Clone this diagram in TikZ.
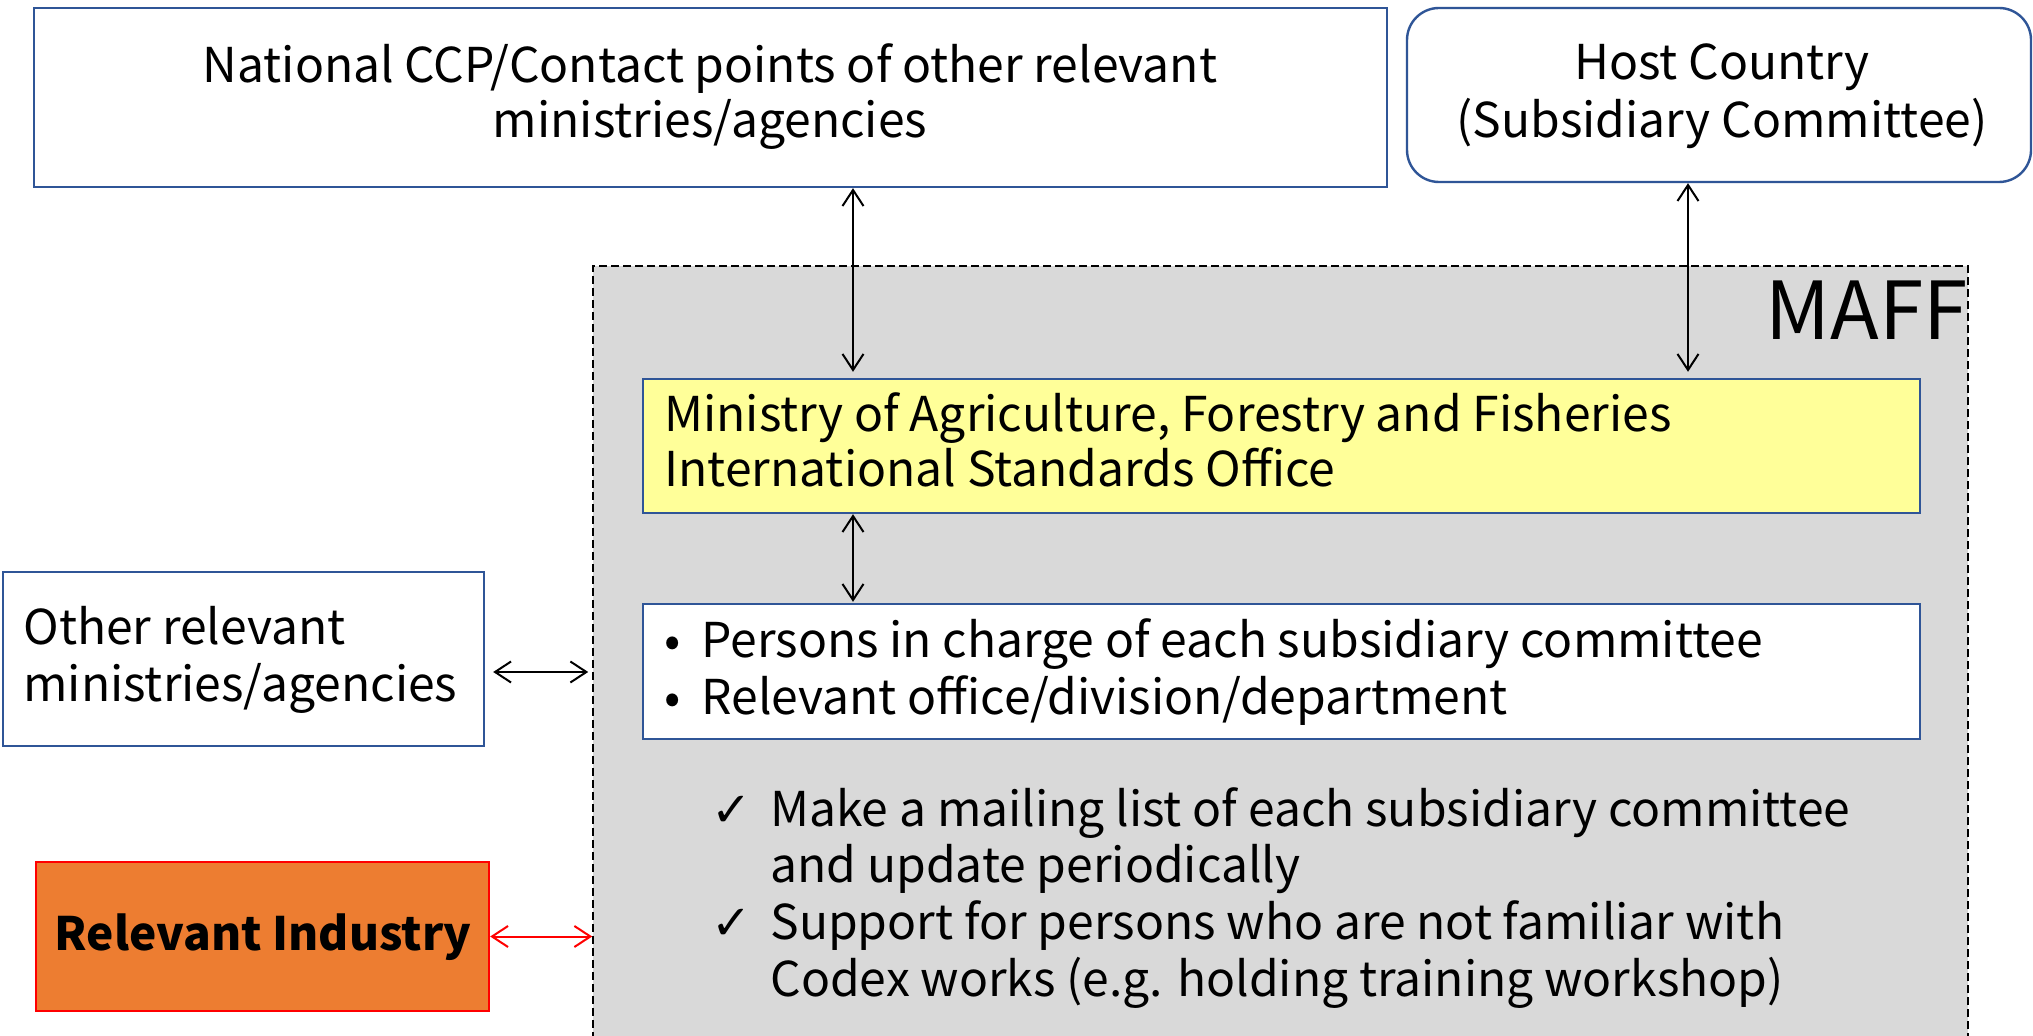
\documentclass[tikz,border=0pt]{standalone}
\usepackage{fontspec}
\setmainfont{Noto Sans CJK JP}
\newfontfamily\symfont{DejaVu Sans}
\usetikzlibrary{arrows.meta,fit}
\definecolor{boxblue}{HTML}{2F5597}
\definecolor{maffgray}{HTML}{D9D9D9}
\definecolor{lightyellow}{HTML}{FFFF99}
\definecolor{indorange}{HTML}{ED7D31}
\begin{document}
\begin{tikzpicture}[x=0.5pt,y=-0.5pt,
  bluebox/.style={draw=boxblue, line width=1.2pt, inner sep=0pt},
  txt/.style={inner sep=0pt, font=\fontsize{24}{28}\selectfont},
  bigtxt/.style={inner sep=0pt, font=\fontsize{40}{46}\selectfont},
  arr/.style={{Straight Barb[length=8pt,width=10.5pt]}-{Straight Barb[length=8pt,width=10.5pt]}, line width=1pt},
]
\useasboundingbox (0,0) rectangle (2033,1036);
\fill[white] (0,0) rectangle (2033,1036);

% MAFF container
\node[draw=black, line width=0.8pt, dash pattern=on 4pt off 2pt, fill=maffgray, inner sep=0pt, fit={(593,266)(1968,1070)}] (maff) {};
\node[bigtxt, anchor=base east] (mafftxt) at (1968,340) {MAFF};

% boxes
\node[bluebox, fit={(34,8)(1387,187)}] (ccp) {};
\node[bluebox, rounded corners=16pt, fit={(1407,8)(2031,182)}] (host) {};
\node[bluebox, fill=lightyellow, fit={(643,379)(1920,513)}] (yellow) {};
\node[bluebox, fill=white, fit={(643,604)(1920,739)}] (bul) {};
\node[bluebox, fill=white, fit={(3,572)(484,746)}] (other) {};
\node[draw=red, line width=1.2pt, fill=indorange, inner sep=0pt, fit={(36,862)(489,1011)}] (ind) {};

% texts
\node[txt, anchor=base] (t1) at (710,83) {National CCP/Contact points of other relevant};
\node[txt, anchor=base] (t2) at (710,138) {ministries/agencies};
\node[txt, anchor=base] (h1) at (1722,80) {Host Country};
\node[txt, anchor=base] (h2) at (1722,138) {(Subsidiary Committee)};
\node[txt, anchor=base west] (y1) at (664,432) {Ministry of Agriculture, Forestry and Fisheries};
\node[txt, anchor=base west] (y2) at (664,487) {International Standards Office};
\node[txt, anchor=base west] (b1m) at (664,657) {•};
\node[txt, anchor=base west] (b1) at (701,657) {Persons in charge of each subsidiary committee};
\node[txt, anchor=base west] (b2m) at (664,714) {•};
\node[txt, anchor=base west] (b2) at (701,714) {Relevant office/division/department};
\node[txt, anchor=base west] (o1) at (23,645) {Other relevant};
\node[txt, anchor=base west] (o2) at (23,701) {ministries/agencies};
\node[txt, anchor=base, font=\fontsize{23}{28}\selectfont\bfseries] (it) at (263,950) {Relevant Industry};
\node[txt, anchor=base west] (c1m) at (711,826) {\symfont ✓};
\node[txt, anchor=base west] (c1) at (770,826) {Make a mailing list of each subsidiary committee};
\node[txt, anchor=base west] (c1b) at (770,882) {and update periodically};
\node[txt, anchor=base west] (c2m) at (711,939) {\symfont ✓};
\node[txt, anchor=base west] (c2) at (770,939) {Support for persons who are not familiar with};
\node[txt, anchor=base west] (c2b) at (770,996) {Codex works (e.g. holding training workshop)};

% connectors
\coordinate (ax) at (853,0);
\coordinate (hx) at (1688,0);
\coordinate (oy) at (0,672);
\draw[arr, shorten >=3pt] (ccp.south -| ax) -- (yellow.north -| ax);
\draw[arr, shorten >=3pt] (host.south -| hx) -- (yellow.north -| hx);
\draw[arr, shorten >=0.5pt] (yellow.south -| ax) -- (bul.north -| ax);
\draw[arr, shorten <=4pt, shorten >=2pt] (other.east |- oy) -- (maff.west |- oy);
\draw[arr, red] (ind.east) -- (maff.west |- ind.east);
\end{tikzpicture}
\end{document}
